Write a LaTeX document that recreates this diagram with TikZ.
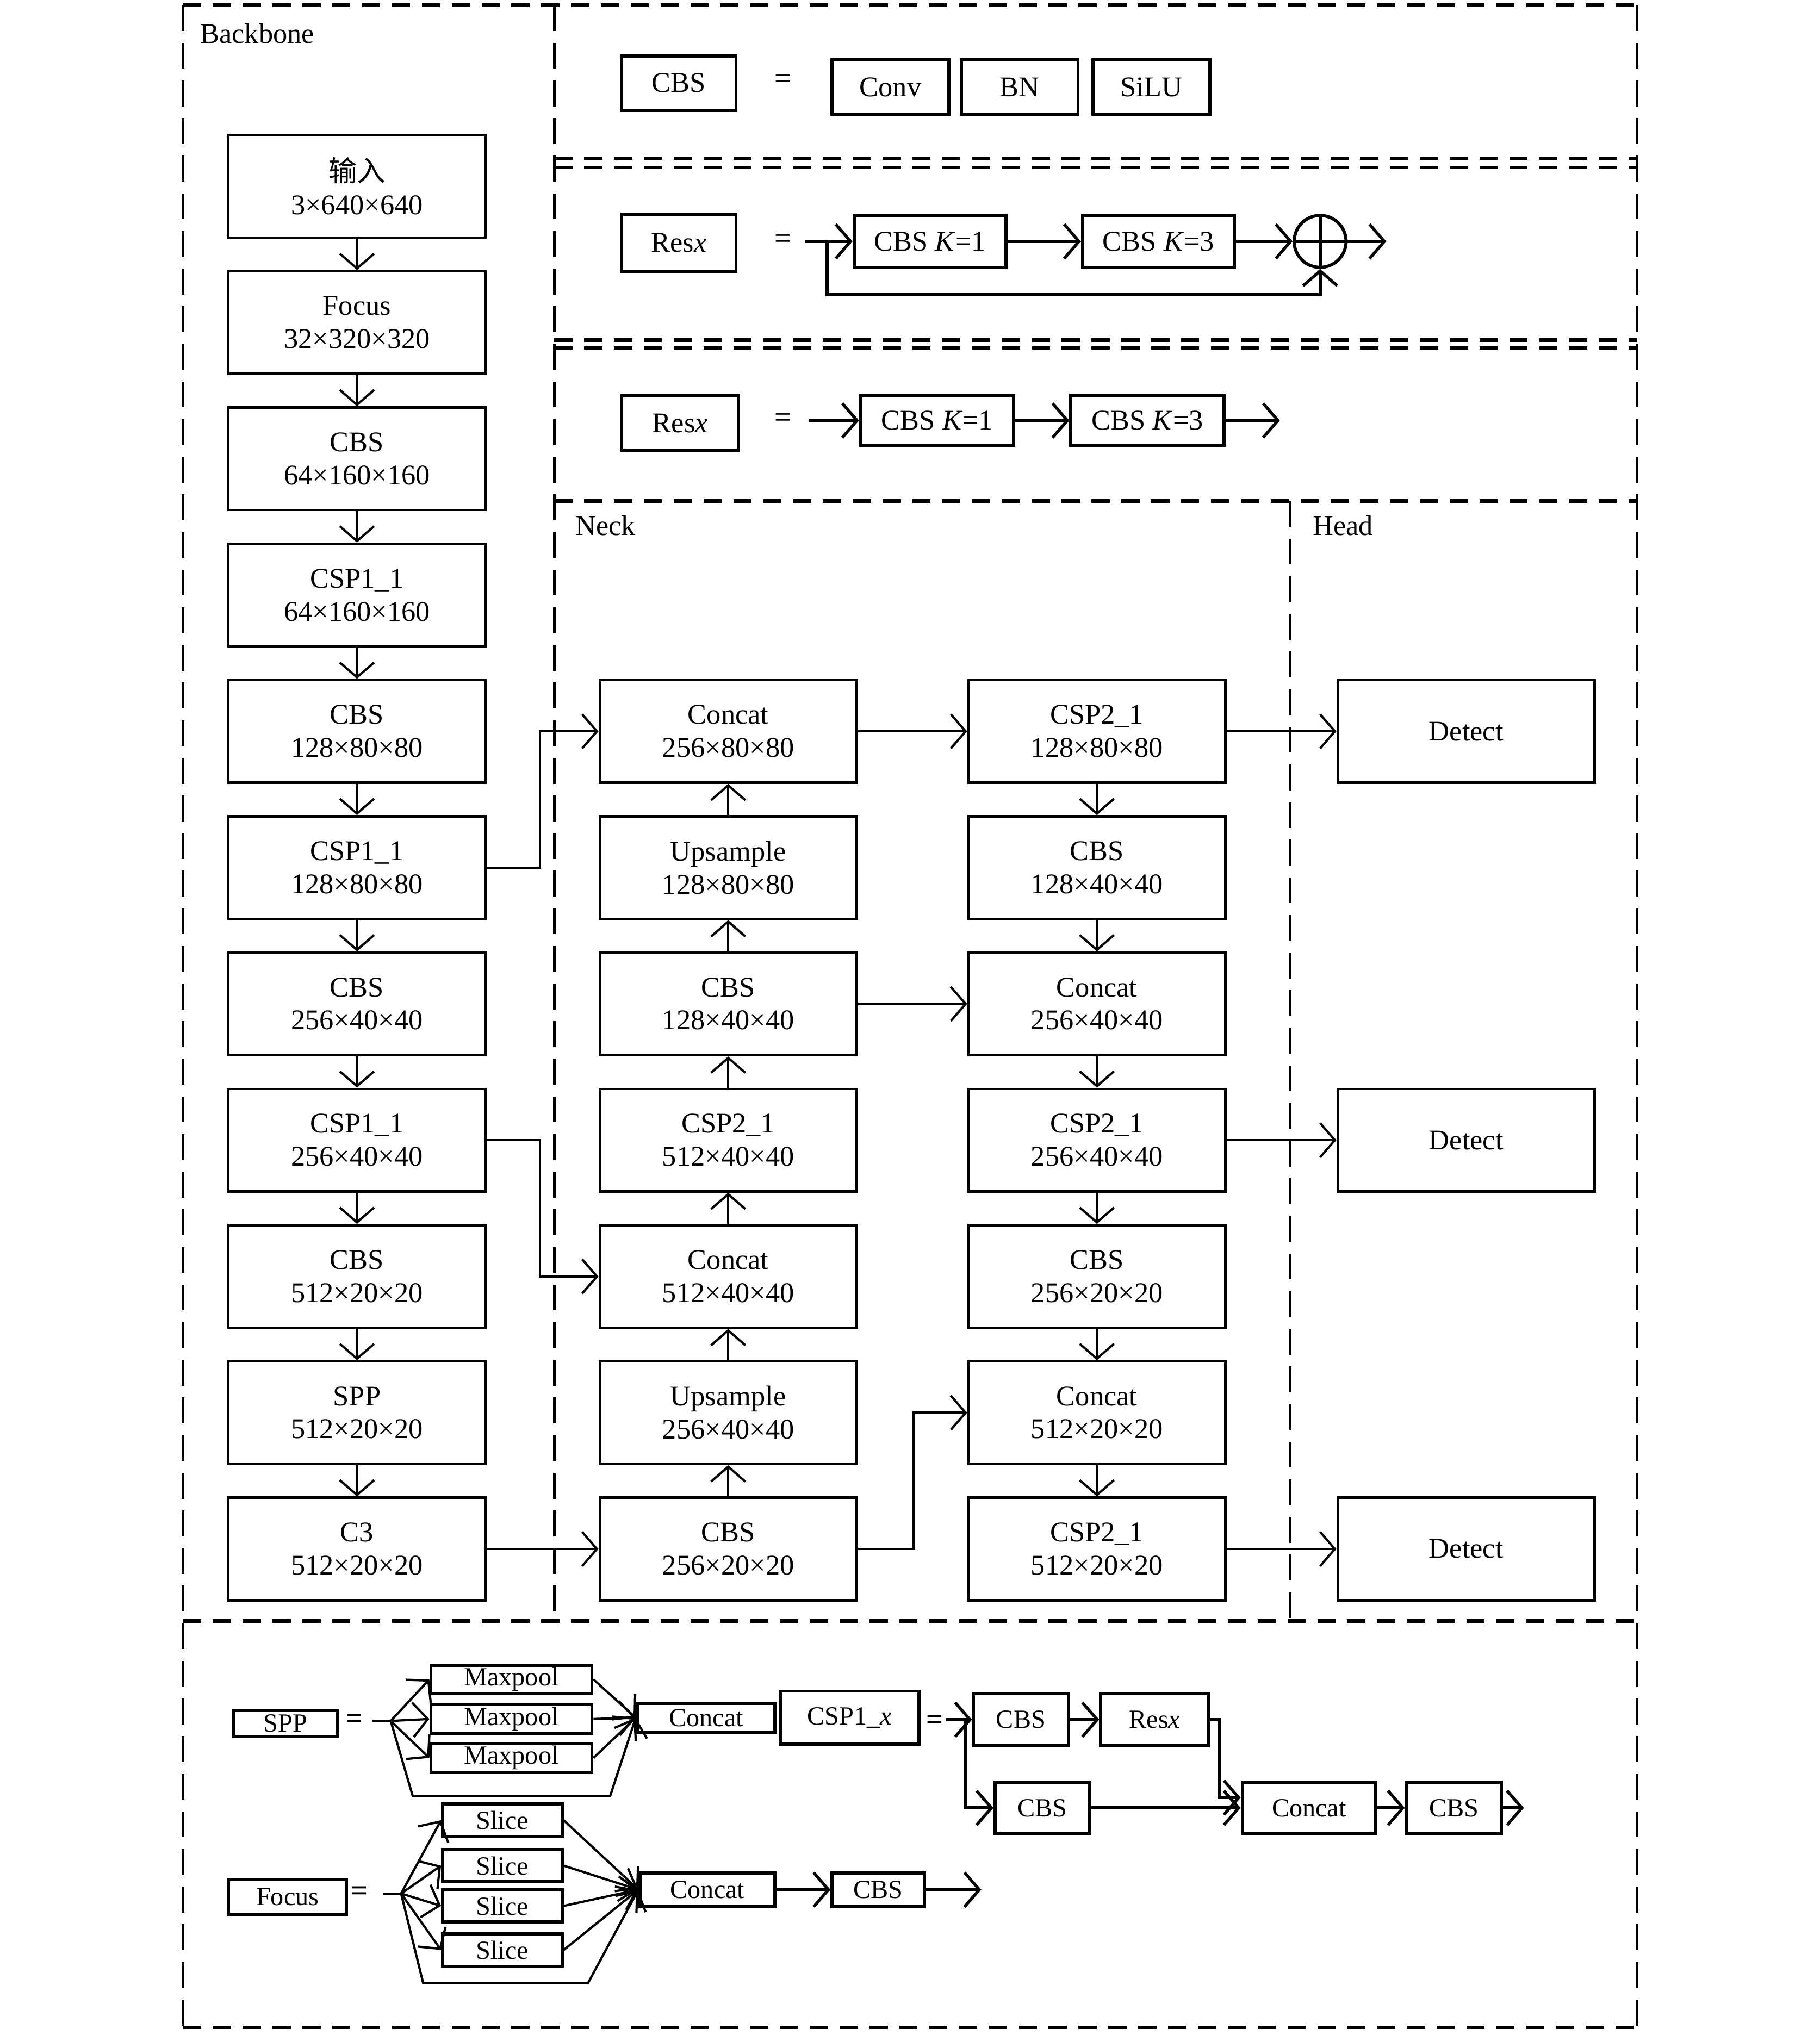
\documentclass[tikz,border=0pt]{standalone}
\usepackage{fontspec}
\setmainfont{Liberation Serif}
\newfontfamily\cjk{Noto Sans CJK SC}
\usetikzlibrary{arrows.meta, positioning, calc}
\tikzset{
    block/.style={rectangle, draw, line width=1.1pt, minimum width=3.96cm, minimum height=1.58cm, align=center, font=\fontsize{12.5}{14.5}\selectfont},
    legendbox/.style={rectangle, draw, line width=1.4pt, minimum height=0.84cm, inner sep=1pt, font=\fontsize{12.5}{14.5}\selectfont},
    mini/.style={rectangle, draw, line width=1.4pt, inner sep=0pt, font=\fontsize{11.5}{12}\selectfont},
    sign/.style={inner sep=0pt, font=\fontsize{13}{14.5}\selectfont},
    tag/.style={anchor=west, inner sep=0pt, font=\fontsize{12.5}{14.5}\selectfont},
    arrow/.style={-{Straight Barb[length=6.5pt, width=15pt, line width=1pt]}, line width=1pt},
    boldarrow/.style={-{Straight Barb[length=6.5pt, width=15pt, line width=1.3pt]}, line width=1.4pt},
    link/.style={line width=1pt},
    regionline/.style={line width=1.5pt, dash pattern=on 0.28cm off 0.18cm},
    divider/.style={line width=1.1pt, dash pattern=on 0.4cm off 0.18cm},
}

\begin{document}
\begin{tikzpicture}[x=0.02cm, y=-0.02cm]
    \useasboundingbox (0,0) rectangle (1402,1568);

    \draw[divider] (141,4) -- (141,1562);
    \draw[divider] (1261,4) -- (1261,1562);
    \draw[divider] (427,4) -- (427,1249);
    \draw[divider] (994,386) -- (994,1249);
    \foreach \y/\xa in {4/141, 122/427, 129/427, 262/427, 268/427, 386/427, 1249/141, 1562/141}
        \draw[regionline] (\xa,\y) -- (1261,\y);

    \node[tag] (bbtag) at (154,26) {Backbone};
    \node[tag] (necktag) at (443,405) {Neck};
    \node[tag] (headtag) at (1011,405) {Head};

    % CBS
    \node[legendbox, minimum width=1.76cm] (lgcbs) at (523,64) {CBS};
    \node[sign] (lgeq) at (603,63) {=};
    \foreach \n/\x/\txt in {conv/686/Conv, bn/785.5/BN, silu/887/SiLU}
        \node[legendbox, minimum width=1.8cm] (lg\n) at (\x,67) {\txt};

    % Resx with shortcut
    \node[legendbox, minimum width=1.76cm, minimum height=0.88cm] (resa) at (523,187) {Res\textit{x}};
    \node[sign] (resaeq) at (603,186) {=};
    \node[legendbox, minimum width=2.34cm, minimum height=0.8cm] (resak1) at (716.5,186) {CBS \textit{K}=1};
    \node[legendbox, minimum width=2.34cm, minimum height=0.8cm] (resak3) at (892.5,186) {CBS \textit{K}=3};
    \node[circle, draw, line width=1.4pt, minimum size=0.8cm, inner sep=0pt] (resasum) at (1017,186) {};
    \draw[line width=1.4pt] (resasum.north) -- (resasum.south) (resasum.west) -- (resasum.east);
    \coordinate (resain) at (620,186);
    \coordinate (resafork) at (637,186);
    \coordinate (resaout) at (1068,186);
    \draw[boldarrow] (resain) -- (resak1);
    \draw[boldarrow] (resak1) -- (resak3);
    \draw[boldarrow] (resak3) -- (resasum);
    \draw[boldarrow] (resasum) -- (resaout);
    \draw[boldarrow] (resafork) -- ++(0,41) -| (resasum);

    % Resx plain
    \node[legendbox, minimum width=1.8cm] (resb) at (524,326) {Res\textit{x}};
    \node[sign] (resbeq) at (603,324) {=};
    \node[legendbox, minimum width=2.36cm, minimum height=0.76cm] (resbk1) at (722,324) {CBS \textit{K}=1};
    \node[legendbox, minimum width=2.36cm, minimum height=0.76cm] (resbk3) at (884,324) {CBS \textit{K}=3};
    \coordinate (resbin) at (623,324);
    \coordinate (resbout) at (986,324);
    \draw[boldarrow] (resbin) -- (resbk1);
    \draw[boldarrow] (resbk1) -- (resbk3);
    \draw[boldarrow] (resbk3) -- (resbout);

    % Backbone, Neck, Head
    \foreach \i/\txt/\dims in {1/{\cjk 输入}/3×640×640, 2/Focus/32×320×320, 3/CBS/64×160×160, 4/CSP1\_1/64×160×160, 5/CBS/128×80×80, 6/CSP1\_1/128×80×80, 7/CBS/256×40×40, 8/CSP1\_1/256×40×40, 9/CBS/512×20×20, 10/SPP/512×20×20, 11/C3/512×20×20}
        \node[block] (bb\i) at (275,{143.5+(\i-1)*105}) {{\txt}\\\dims};
    \foreach \i/\txt/\dims in {5/Concat/256×80×80, 6/Upsample/128×80×80, 7/CBS/128×40×40, 8/CSP2\_1/512×40×40, 9/Concat/512×40×40, 10/Upsample/256×40×40, 11/CBS/256×20×20}
        \node[block] (nk\i) at (561,{143.5+(\i-1)*105}) {{\txt}\\\dims};
    \foreach \i/\txt/\dims in {5/CSP2\_1/128×80×80, 6/CBS/128×40×40, 7/Concat/256×40×40, 8/CSP2\_1/256×40×40, 9/CBS/256×20×20, 10/Concat/512×20×20, 11/CSP2\_1/512×20×20}
        \node[block] (pn\i) at (845,{143.5+(\i-1)*105}) {{\txt}\\\dims};
    \foreach \i in {5,8,11}
        \node[block] (hd\i) at (1129.5,{143.5+(\i-1)*105}) {Detect};

    \foreach \i [evaluate=\i as \j using int(\i+1)] in {1,...,10}
        \draw[arrow] (bb\i) -- (bb\j);
    \foreach \i [evaluate=\i as \j using int(\i+1)] in {5,...,10} {
        \draw[arrow] (nk\j) -- (nk\i);
        \draw[arrow] (pn\i) -- (pn\j);
    }
    \draw[arrow] (bb6.east) -- ++(41,0) |- (nk5.west);
    \draw[arrow] (bb8.east) -- ++(41,0) |- (nk9.west);
    \draw[arrow] (bb11) -- (nk11);
    \draw[arrow] (nk5) -- (pn5);
    \draw[arrow] (nk7) -- (pn7);
    \draw[arrow] (nk11.east) -- ++(43,0) |- (pn10.west);
    \foreach \i in {5,8,11}
        \draw[arrow] (pn\i) -- (hd\i);

    % SPP
    \node[mini, minimum width=1.6cm, minimum height=0.4cm] (spp) at (220,1328) {SPP};
    \node[sign] (sppeq) at (273,1326) {\textbf{=}};
    \coordinate (sppin) at (287,1326);
    \coordinate (sppfork) at (301,1326);
    \foreach \m/\y in {1/1294, 2/1324.5, 3/1354.5}
        \node[mini, minimum width=2.48cm, minimum height=0.44cm] (mp\m) at (394,\y) {Maxpool};
    \node[mini, minimum width=2.12cm, minimum height=0.44cm] (sppcat) at (544,1323.5) {Concat};
    \draw[link] (sppin) -- (sppfork);
    \foreach \m in {1,2,3} {
        \draw[arrow] (sppfork) -- (mp\m.west);
        \draw[arrow] (mp\m.east) -- (sppcat.west);
    }
    \draw[arrow] (sppfork) -- (318,1384) -- (470,1384) -- (sppcat.west);

    % CSP1_x
    \node[mini, minimum width=2.14cm, minimum height=0.82cm] (csp) at (654.5,1323.5) {CSP1\_\textit{x}};
    \node[sign] (cspeq) at (720,1327) {\textbf{=}};
    \coordinate (cspin) at (729,1325);
    \coordinate (cspfork) at (744,1325);
    \node[mini, minimum width=1.46cm, minimum height=0.8cm] (cspcbsa) at (786.5,1325) {CBS};
    \node[mini, minimum width=1.66cm, minimum height=0.8cm] (cspres) at (889.5,1325) {Res\textit{x}};
    \node[mini, minimum width=1.46cm, minimum height=0.8cm] (cspcbsb) at (803,1393) {CBS};
    \node[mini, minimum width=2.06cm, minimum height=0.8cm] (cspcat) at (1008.5,1393) {Concat};
    \node[mini, minimum width=1.46cm, minimum height=0.8cm] (cspcbsc) at (1120,1393) {CBS};
    \coordinate (cspout) at (1174,1393);
    \draw[boldarrow] (cspin) -- (cspcbsa);
    \draw[boldarrow] (cspfork) |- (cspcbsb);
    \draw[boldarrow] (cspcbsa) -- (cspres);
    \draw[boldarrow] (cspres.east) -- ++(7,0) |- ([yshift=4.5pt]cspcat.west);
    \draw[boldarrow] (cspcbsb) -- (cspcat);
    \draw[boldarrow] (cspcat) -- (cspcbsc);
    \draw[boldarrow] (cspcbsc) -- (cspout);

    % Focus
    \node[mini, minimum width=1.82cm, minimum height=0.54cm] (focus) at (221.5,1461.5) {Focus};
    \node[sign] (foceq) at (277,1459) {\textbf{=}};
    \coordinate (focin) at (295,1459);
    \coordinate (focfork) at (309,1459);
    \foreach \s/\y in {1/1402.5, 2/1437.5, 3/1468.5, 4/1502.5}
        \node[mini, minimum width=1.84cm, minimum height=0.5cm] (sl\s) at (387,\y) {Slice};
    \node[mini, minimum width=2.08cm, minimum height=0.52cm] (foccat) at (545,1456) {Concat};
    \node[mini, minimum width=1.42cm, minimum height=0.52cm] (foccbs) at (676.5,1456) {CBS};
    \coordinate (focout) at (756,1456);
    \draw[link] (focin) -- (focfork);
    \foreach \s in {1,...,4} {
        \draw[arrow] (focfork) -- (sl\s.west);
        \draw[arrow] (sl\s.east) -- (foccat.west);
    }
    \draw[arrow] (focfork) -- (326,1528) -- (453,1528) -- (foccat.west);
    \draw[boldarrow] (foccat) -- (foccbs);
    \draw[boldarrow] (foccbs) -- (focout);
\end{tikzpicture}
\end{document}
